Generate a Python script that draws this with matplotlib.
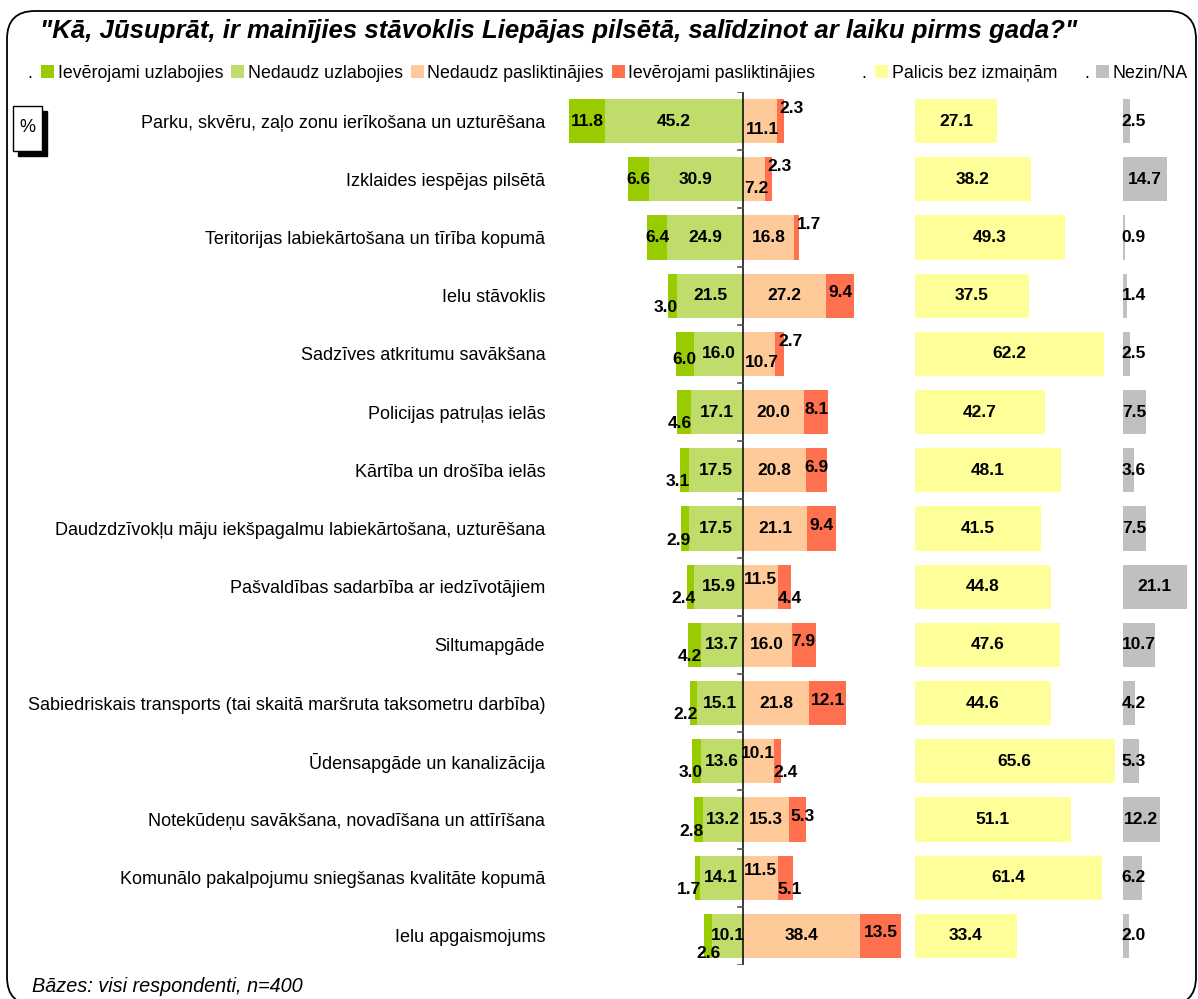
import numpy as np
import matplotlib
matplotlib.use("Agg")
import matplotlib.pyplot as plt
from matplotlib.patches import FancyBboxPatch, Rectangle
from matplotlib.transforms import IdentityTransform

plt.rcParams['font.family'] = ['Liberation Sans', 'DejaVu Sans']

# --- dati ---
categories = [
    "Parku, skvēru, zaļo zonu ierīkošana un uzturēšana",
    "Izklaides iespējas pilsētā",
    "Teritorijas labiekārtošana un tīrība kopumā",
    "Ielu stāvoklis",
    "Sadzīves atkritumu savākšana",
    "Policijas patruļas ielās",
    "Kārtība un drošība ielās",
    "Daudzdzīvokļu māju iekšpagalmu labiekārtošana, uzturēšana",
    "Pašvaldības sadarbība ar iedzīvotājiem",
    "Siltumapgāde",
    "Sabiedriskais transports (tai skaitā maršruta taksometru darbība)",
    "Ūdensapgāde un kanalizācija",
    "Notekūdeņu savākšana, novadīšana un attīrīšana",
    "Komunālo pakalpojumu sniegšanas kvalitāte kopumā",
    "Ielu apgaismojums",
]
iev_uzl = [11.8, 6.6, 6.4, 3.0, 6.0, 4.6, 3.1, 2.9, 2.4, 4.2, 2.2, 3.0, 2.8, 1.7, 2.6]
ned_uzl = [45.2, 30.9, 24.9, 21.5, 16.0, 17.1, 17.5, 17.5, 15.9, 13.7, 15.1, 13.6, 13.2, 14.1, 10.1]
ned_pasl = [11.1, 7.2, 16.8, 27.2, 10.7, 20.0, 20.8, 21.1, 11.5, 16.0, 21.8, 10.1, 15.3, 11.5, 38.4]
iev_pasl = [2.3, 2.3, 1.7, 9.4, 2.7, 8.1, 6.9, 9.4, 4.4, 7.9, 12.1, 2.4, 5.3, 5.1, 13.5]
bez_izm = [27.1, 38.2, 49.3, 37.5, 62.2, 42.7, 48.1, 41.5, 44.8, 47.6, 44.6, 65.6, 51.1, 61.4, 33.4]
nezin = [2.5, 14.7, 0.9, 1.4, 2.5, 7.5, 3.6, 7.5, 21.1, 10.7, 4.2, 5.3, 12.2, 6.2, 2.0]

legend_names = ["Ievērojami uzlabojies", "Nedaudz uzlabojies", "Nedaudz pasliktinājies",
                "Ievērojami pasliktinājies", "Palicis bez izmaiņām", "Nezin/NA"]

# krāsas
c_dgreen = "#99CC00"
c_lgreen = "#C0DC6A"
c_peach = "#FFCA99"
c_red = "#FF704F"
c_yellow = "#FFFF99"
c_gray = "#C0C0C0"

BEZ_X = 56.4     # kur sākas "bez izmaiņām" stabiņi
NEZIN_X = 124.6  # kur sākas "nezin" stabiņi

fig = plt.figure(figsize=(11.98, 9.99), dpi=100)
W, H = 1198, 999

ax = fig.add_axes([566 / W, 1 - 965 / H, 628 / W, 873 / H])

y = np.arange(len(categories))
hb = 0.76
a_dg = np.array(iev_uzl)
a_lg = np.array(ned_uzl)
a_pe = np.array(ned_pasl)
a_rd = np.array(iev_pasl)

b_lg = ax.barh(y, -a_lg, height=hb, color=c_lgreen, label=legend_names[1])
b_dg = ax.barh(y, -a_dg, left=-a_lg, height=hb, color=c_dgreen, label=legend_names[0])
b_pe = ax.barh(y, a_pe, height=hb, color=c_peach, label=legend_names[2])
b_rd = ax.barh(y, a_rd, left=a_pe, height=hb, color=c_red, label=legend_names[3])
b_ye = ax.barh(y, bez_izm, left=BEZ_X, height=hb, color=c_yellow, label=legend_names[4])
b_gr = ax.barh(y, nezin, left=NEZIN_X, height=hb, color=c_gray, label=legend_names[5])

ax.set_xlim(-58, 148)
ax.set_ylim(len(categories) - 0.5, -0.5)
for s in ax.spines.values():
    s.set_visible(False)
ax.set_xticks([])
ax.set_yticks(y)
ax.set_yticklabels(categories, fontsize=13)
ax.tick_params(axis='y', length=0, pad=15)

# centrālā ass ar iedaļām
ax.axvline(0, color="black", lw=1.1, zorder=3)
for b in np.arange(-0.5, len(categories), 1.0):
    ax.plot([-1.7, 0], [b, b], color="#555555", lw=1.2, zorder=3)

lab = dict(fontsize=12.5, fontweight="bold", color="black", zorder=5)

for i in y:
    dg, lg, pe, rd = a_dg[i], a_lg[i], a_pe[i], a_rd[i]
    # uzlabojies
    ax.text(-lg / 2, i, f"{lg:.1f}", ha="center", va="center", **lab)
    if dg < 5 and i != len(categories) - 1:
        ax.text(-lg + 0.3, i + 0.2, f"{dg:.1f}", ha="right", va="center", **lab)
    elif dg < 5:
        ax.text(-lg - dg / 2, i + 0.3, f"{dg:.1f}", ha="center", va="center", **lab)
    else:
        ax.text(-lg - dg / 2, i + (0.1 if dg < 7 and i > 2 else 0), f"{dg:.1f}",
                ha="center", va="center", **lab)
    # pasliktinājies
    if rd < 3 and pe < 12 and i != 11:
        ax.text(pe / 2 + 1, i + 0.15, f"{pe:.1f}", ha="center", va="center", **lab)
        ax.text(pe + 1, i - 0.22, f"{rd:.1f}", ha="left", va="center", **lab)
    elif rd < 3 and pe >= 12:
        ax.text(pe / 2, i, f"{pe:.1f}", ha="center", va="center", **lab)
        ax.text(pe + 1, i - 0.22, f"{rd:.1f}", ha="left", va="center", **lab)
    elif rd < 6 and pe < 12:
        ax.text(pe / 2, i - 0.13, f"{pe:.1f}", ha="center", va="center", **lab)
        ax.text(pe - 0.2, i + 0.2, f"{rd:.1f}", ha="left", va="center", **lab)
    else:
        ax.text(pe / 2, i, f"{pe:.1f}", ha="center", va="center", **lab)
        ax.text(pe + rd / 2 + (1.5 if rd < 6 else 0), i - 0.05, f"{rd:.1f}",
                ha="center", va="center", **lab)
    # bez izmaiņām / nezin
    ax.text(BEZ_X + bez_izm[i] / 2, i, f"{bez_izm[i]:.1f}", ha="center", va="center", **lab)
    ax.text(NEZIN_X + max(nezin[i] / 2, 3.6), i, f"{nezin[i]:.1f}", ha="center", va="center", **lab)

# rāmis ar noapaļotiem stūriem
frame = FancyBboxPatch((7, -6), 1189, 999 - 11 + 6,
                       boxstyle="round,pad=0,rounding_size=28",
                       transform=IdentityTransform(), fill=False,
                       edgecolor="black", lw=1.3)
fig.add_artist(frame)

fig.text(559 / W, 1 - 31 / H,
         "\"Kā, Jūsuprāt, ir mainījies stāvoklis Liepājas pilsētā, salīdzinot ar laiku pirms gada?\"",
         ha="center", va="center", fontsize=18.5, fontweight="bold", fontstyle="italic")

# leģendas
leg_kw = dict(loc="center left", frameon=False, fontsize=12.8, handlelength=0.73,
              handleheight=0.73, handletextpad=0.2, borderpad=0, borderaxespad=0)
ly = 1 - 73 / H
fig.legend([b_dg, b_lg, b_pe, b_rd], legend_names[:4], ncol=4, columnspacing=0.45,
           bbox_to_anchor=(41 / W, ly), **leg_kw)
fig.legend([b_ye], [legend_names[4]], bbox_to_anchor=(875 / W, ly), **leg_kw)
fig.legend([b_gr], [legend_names[5]], bbox_to_anchor=(1096 / W, ly), **leg_kw)
for xp in [27, 861, 1084]:
    fig.text(xp / W, ly, ".", ha="left", va="center", fontsize=12.8)

# "%" kastīte ar ēnu
fig.add_artist(Rectangle((18, H - 156), 29, 45, transform=IdentityTransform(),
                         facecolor="black", edgecolor="black"))
fig.add_artist(Rectangle((13, H - 151), 29, 45, transform=IdentityTransform(),
                         facecolor="white", edgecolor="black", lw=1))
fig.text(27 / W, 1 - 128 / H, "%", ha="center", va="center", fontsize=13)

fig.text(32 / W, 1 - 987 / H, "Bāzes: visi respondenti, n=400", ha="left", va="center",
         fontsize=14.3, fontstyle="italic")

fig.savefig("out.png", dpi=100)
